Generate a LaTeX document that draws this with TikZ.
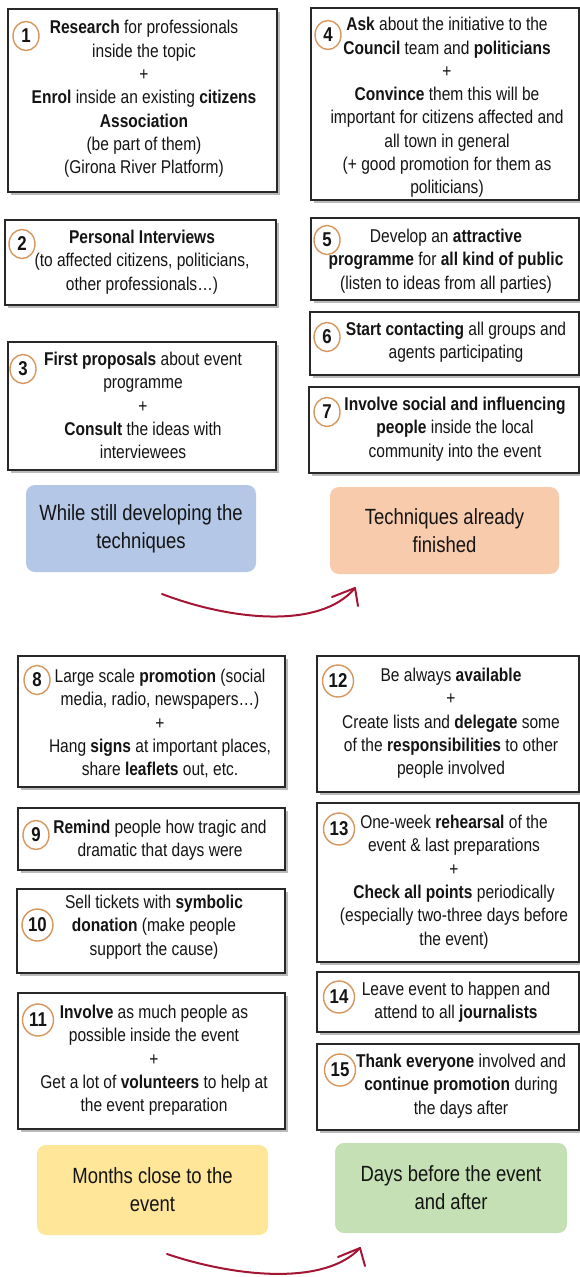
\documentclass[tikz,border=0pt]{standalone}
\usepackage{fontspec}
\setmainfont{Liberation Sans}[FakeStretch=0.84]
\usetikzlibrary{shadows,shapes.geometric}
\definecolor{circ}{RGB}{214,150,92}
\definecolor{bxline}{RGB}{40,40,40}
\definecolor{cblue}{RGB}{180,199,231}
\definecolor{corange}{RGB}{248,203,173}
\definecolor{cyellow}{RGB}{255,230,153}
\definecolor{cgreen}{RGB}{197,224,180}
\definecolor{arrred}{RGB}{165,20,50}
\definecolor{txt}{RGB}{20,20,20}
\begin{document}
\begin{tikzpicture}[x=1pt,y=-1pt,
  stepbox/.style={draw=bxline, line width=1.2pt, fill=white, inner sep=0pt,
    drop shadow={shadow xshift=2.5pt, shadow yshift=-2.5pt, opacity=0.45, fill=black!60}},
  boxtext/.style={align=center, inner sep=0pt, font=\fontsize{18.5}{23.3}\selectfont, text=txt},
  numc/.style={ellipse, draw=circ, line width=1.4pt, fill=white, inner sep=0pt,
    minimum width=26pt, minimum height=29pt, font=\fontsize{20}{20}\selectfont\bfseries, text=txt},
  numcc/.style={numc, minimum width=31pt, minimum height=32pt},
  phase/.style={rounded corners=9pt, inner sep=0pt, align=center,
    font=\fontsize{22}{28}\selectfont, text=txt},
  arr/.style={draw=arrred, line width=2pt, line cap=round, line join=round}
]
\useasboundingbox (0,0) rectangle (580,1277);

% ---------- top half boxes ----------
\node[stepbox, minimum width=269pt, minimum height=183pt] (b1) at (142.5,100.5) {};
\node[boxtext] (t1) at (144,99) {\textbf{Research} for professionals\\inside the topic\\+\\\textbf{Enrol} inside an existing \textbf{citizens}\\\textbf{Association}\\(be part of them)\\(Girona River Platform)};

\node[stepbox, minimum width=268pt, minimum height=192pt] (b4) at (445,104) {};
\node[boxtext] (t4) at (447,107.5) {\textbf{Ask} about the initiative to the\\\textbf{Council} team and \textbf{politicians}\\+\\\textbf{Convince} them this will be\\important for citizens affected and\\all town in general\\(+ good promotion for them as\\politicians)};

\node[stepbox, minimum width=271pt, minimum height=85pt] (b2) at (140.5,262.5) {};
\node[boxtext] (t2) at (142,262) {\textbf{Personal Interviews}\\(to affected citizens, politicians,\\other professionals…)};

\node[stepbox, minimum width=268pt, minimum height=82pt] (b5) at (445,259) {};
\node[boxtext] (t5) at (446,261) {Develop an \textbf{attractive}\\\textbf{programme} for \textbf{all kind of public}\\(listen to ideas from all parties)};

\node[stepbox, minimum width=269pt, minimum height=63pt] (b6) at (444.5,343.5) {};
\node[boxtext] (t6) at (456,342) {\textbf{Start contacting} all groups and\\agents participating};

\node[stepbox, minimum width=268pt, minimum height=128pt] (b3) at (142,406) {};
\node[boxtext] (t3) at (143,405.5) {\textbf{First proposals} about event\\programme\\+\\\textbf{Consult} the ideas with\\interviewees};

\node[stepbox, minimum width=270pt, minimum height=86pt] (b7) at (444,430) {};
\node[boxtext] (t7) at (455,429) {\textbf{Involve social and influencing}\\\textbf{people} inside the local\\community into the event};

% ---------- phase boxes top ----------
\node[phase, fill=cblue, minimum width=230pt, minimum height=87pt] (p1) at (141,528.5) {While still developing the\\techniques};
\node[phase, fill=corange, minimum width=229pt, minimum height=87pt] (p2) at (444.5,530.5) {Techniques already\\finished};

% ---------- arrow 1 ----------
\coordinate (a1s) at (162,594);
\coordinate (a1e) at (355,588);
\coordinate (a1l) at (332,597);
\coordinate (a1r) at (358,606);
\draw[arr] (a1s) .. controls (230,620) and (320,630) .. (a1e);
\draw[arr] (a1l) -- (a1e) -- (a1r);

% ---------- bottom half boxes ----------
\node[stepbox, minimum width=267pt, minimum height=131pt] (b8) at (151.5,721.5) {};
\node[boxtext] (t8) at (160,723.5) {Large scale \textbf{promotion} (social\\media, radio, newspapers…)\\+\\Hang \textbf{signs} at important places,\\share \textbf{leaflets} out, etc.};

\node[stepbox, minimum width=262pt, minimum height=136pt] (b12) at (448,724) {};
\node[boxtext] (t12) at (451,723.5) {Be always \textbf{available}\\+\\Create lists and \textbf{delegate} some\\of the \textbf{responsibilities} to other\\people involved};

\node[stepbox, minimum width=267pt, minimum height=62pt] (b9) at (151.5,839) {};
\node[boxtext] (t9) at (160,840) {\textbf{Remind} people how tragic and\\dramatic that days were};

\node[stepbox, minimum width=262pt, minimum height=159pt] (b13) at (448,882.5) {};
\node[boxtext] (t13) at (454,882) {One-week \textbf{rehearsal} of the\\event \& last preparations\\+\\\textbf{Check all points} periodically\\(especially two-three days before\\the event)};

\node[stepbox, minimum width=268pt, minimum height=84pt] (b10) at (151,931) {};
\node[boxtext] (t10) at (154,927) {Sell tickets with \textbf{symbolic}\\\textbf{donation} (make people\\support the cause)};

\node[stepbox, minimum width=267pt, minimum height=136pt] (b11) at (151.5,1061) {};
\node[boxtext] (t11) at (154,1060.5) {\textbf{Involve} as much people as\\possible inside the event\\+\\Get a lot of \textbf{volunteers} to help at\\the event preparation};

\node[stepbox, minimum width=262pt, minimum height=60pt] (b14) at (448,1002) {};
\node[boxtext] (t14) at (456,1002.5) {Leave event to happen and\\attend to all \textbf{journalists}};

\node[stepbox, minimum width=262pt, minimum height=86pt] (b15) at (448,1087) {};
\node[boxtext] (t15) at (461,1086) {\textbf{Thank everyone} involved and\\\textbf{continue promotion} during\\the days after};

% ---------- phase boxes bottom ----------
\node[phase, fill=cyellow, minimum width=231pt, minimum height=90pt] (p3) at (152.5,1190) {Months close to the\\event};
\node[phase, fill=cgreen, minimum width=232pt, minimum height=90pt] (p4) at (451,1188) {Days before the event\\and after};

% ---------- arrow 2 ----------
\coordinate (a2s) at (167,1254);
\coordinate (a2e) at (360,1248);
\coordinate (a2l) at (338,1257);
\coordinate (a2r) at (365,1266);
\draw[arr] (a2s) .. controls (235,1277) and (325,1286) .. (a2e);
\draw[arr] (a2l) -- (a2e) -- (a2r);

% ---------- number circles ----------
\node[numc] (c1) at (26,36) {1};
\node[numc] (c4) at (328,35) {4};
\node[numc] (c2) at (22,244) {2};
\node[numc] (c5) at (327,240) {5};
\node[numc] (c6) at (327,337) {6};
\node[numc] (c3) at (23,369) {3};
\node[numc] (c7) at (327,412) {7};
\node[numc] (c8) at (37,680) {8};
\node[numcc] (c12) at (338,681) {12};
\node[numc] (c9) at (36,835) {9};
\node[numcc] (c13) at (339,829) {13};
\node[numcc] (c10) at (37.5,925) {10};
\node[numcc] (c11) at (38,1020) {11};
\node[numcc] (c14) at (339,997) {14};
\node[numcc] (c15) at (340,1070) {15};
\end{tikzpicture}
\end{document}
